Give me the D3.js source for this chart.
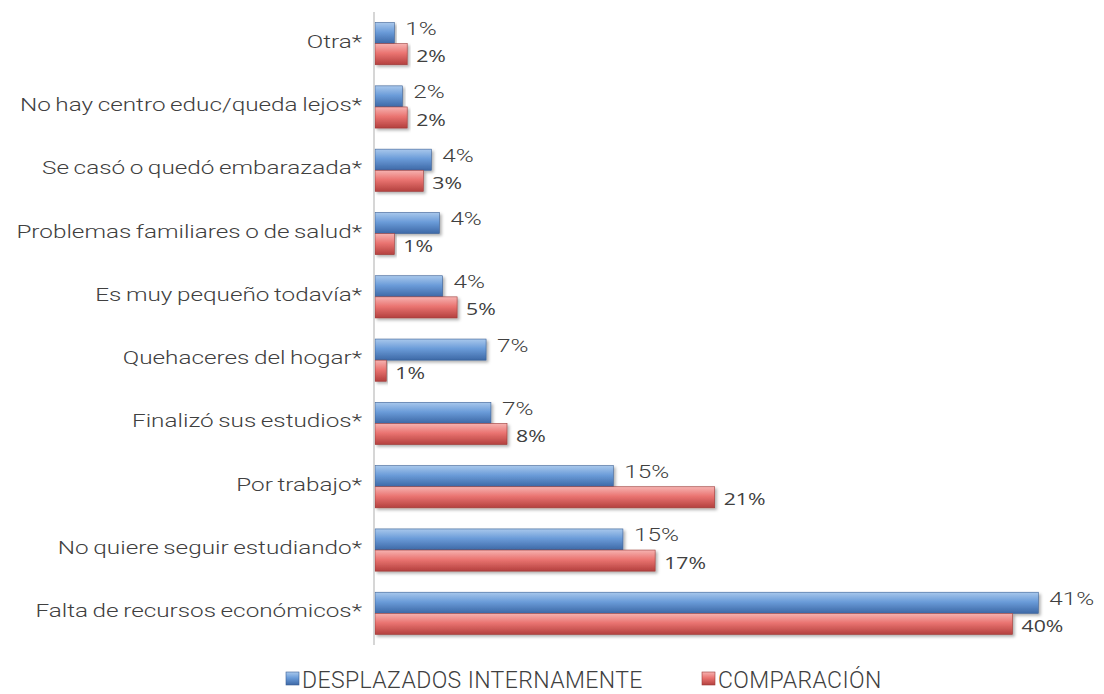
<!DOCTYPE html>
<html>
<head>
<meta charset="utf-8">
<script src="https://cdn.jsdelivr.net/npm/d3@7"></script>
<style>
  body { margin: 0; background: #fff; }
  svg { display: block; }
</style>
</head>
<body>
<div id="chart"></div>
<script>
const categories = [
  "Otra*",
  "No hay centro educ/queda lejos*",
  "Se casó o quedó embarazada*",
  "Problemas familiares o de salud*",
  "Es muy pequeño todavía*",
  "Quehaceres del hogar*",
  "Finalizó sus estudios*",
  "Por trabajo*",
  "No quiere seguir estudiando*",
  "Falta de recursos económicos*"
];
const desplazados = [1.2, 1.7, 3.5, 4.0, 4.2, 6.9, 7.2, 14.8, 15.4, 41.2];
const comparacion = [2.0, 2.0, 3.0, 1.2, 5.1, 0.7, 8.2, 21.1, 17.4, 39.6];
const seriesNames = ["DESPLAZADOS INTERNAMENTE", "COMPARACIÓN"];

const W = 1104, H = 694;
const svg = d3.select("#chart").append("svg")
  .attr("width", W)
  .attr("height", H);

const defs = svg.append("defs");
function addGradient(id, stops) {
  const g = defs.append("linearGradient")
    .attr("id", id)
    .attr("x1", 0).attr("y1", 0).attr("x2", 0).attr("y2", 1);
  stops.forEach(s => g.append("stop").attr("offset", s[0]).attr("stop-color", s[1]));
}
addGradient("gBlue", [[0, "#a9c8ec"], [0.45, "#6b9cd9"], [1, "#3d68a6"]]);
addGradient("gRed", [[0, "#f6b3b1"], [0.45, "#ea7471"], [1, "#b3403e"]]);

const shadow = defs.append("filter").attr("id", "shadow")
  .attr("x", "-5%").attr("y", "-20%").attr("width", "115%").attr("height", "160%");
shadow.append("feDropShadow")
  .attr("dx", 2).attr("dy", 2).attr("stdDeviation", 1.5)
  .attr("flood-color", "#000").attr("flood-opacity", 0.3);

const x0 = 374;
const x = d3.scaleLinear().domain([0, 45]).range([x0, x0 + 45 * 16.1]);
const y = d3.scaleBand().domain(categories).range([12, 645])
  .paddingInner(0.333).paddingOuter(0.1667);
const sub = d3.scaleBand().domain([0, 1]).range([0, y.bandwidth()]);

const fills = ["url(#gBlue)", "url(#gRed)"];
const strokes = ["#3a5f94", "#9c3a38"];

// stretched text helper (the source text is set wide)
function label(px, py, str, opts) {
  return svg.append("text")
    .attr("transform", `translate(${px},${py}) scale(${opts.k},1)`)
    .attr("text-anchor", opts.anchor || "start")
    .attr("font-family", opts.family)
    .attr("font-weight", opts.weight || 400)
    .attr("font-size", opts.size)
    .attr("word-spacing", opts.ws || 0)
    .attr("fill", "#404040")
    .text(str);
}

// bars
categories.forEach((c, i) => {
  [desplazados[i], comparacion[i]].forEach((v, k) => {
    svg.append("rect")
      .attr("x", x(0) + 1)
      .attr("y", y(c) + sub(k))
      .attr("width", x(v) - x(0))
      .attr("height", sub.bandwidth())
      .attr("fill", fills[k])
      .attr("stroke", strokes[k])
      .attr("stroke-width", 0.6)
      .attr("filter", "url(#shadow)");
  });
});

// axis
svg.append("line")
  .attr("x1", x0).attr("x2", x0)
  .attr("y1", 12).attr("y2", 645)
  .attr("stroke", "#c8c8c8").attr("stroke-width", 1.5);

// category labels
categories.forEach(c => {
  label(362, y(c) + y.bandwidth() / 2 + 4, c, {
    k: 1.35, anchor: "end", family: "Roboto, sans-serif",
    weight: 300, size: 18, ws: -1
  });
});

// value labels
categories.forEach((c, i) => {
  label(x(desplazados[i]) + 12, y(c) + sub(0) + sub.bandwidth() / 2 + 2,
    Math.round(desplazados[i]) + "%",
    { k: 1.35, family: "Roboto, sans-serif", weight: 300, size: 18 });
  label(x(comparacion[i]) + 10, y(c) + sub(1) + sub.bandwidth() / 2 + 8,
    Math.round(comparacion[i]) + "%",
    { k: 1.25, family: "'Open Sans', sans-serif", size: 17 });
});

// legend
const legendX = [286, 702];
seriesNames.forEach((name, k) => {
  const g = svg.append("g").attr("transform", `translate(${legendX[k]},672)`);
  g.append("rect")
    .attr("width", 13).attr("height", 13)
    .attr("fill", fills[k]).attr("stroke", strokes[k]).attr("stroke-width", 0.6);
  g.append("text")
    .attr("x", 16).attr("y", 16)
    .attr("font-family", "Roboto, sans-serif")
    .attr("font-weight", 300)
    .attr("font-size", 23)
    .attr("letter-spacing", 0.4)
    .attr("fill", "#404040")
    .text(name);
});
</script>
</body>
</html>
